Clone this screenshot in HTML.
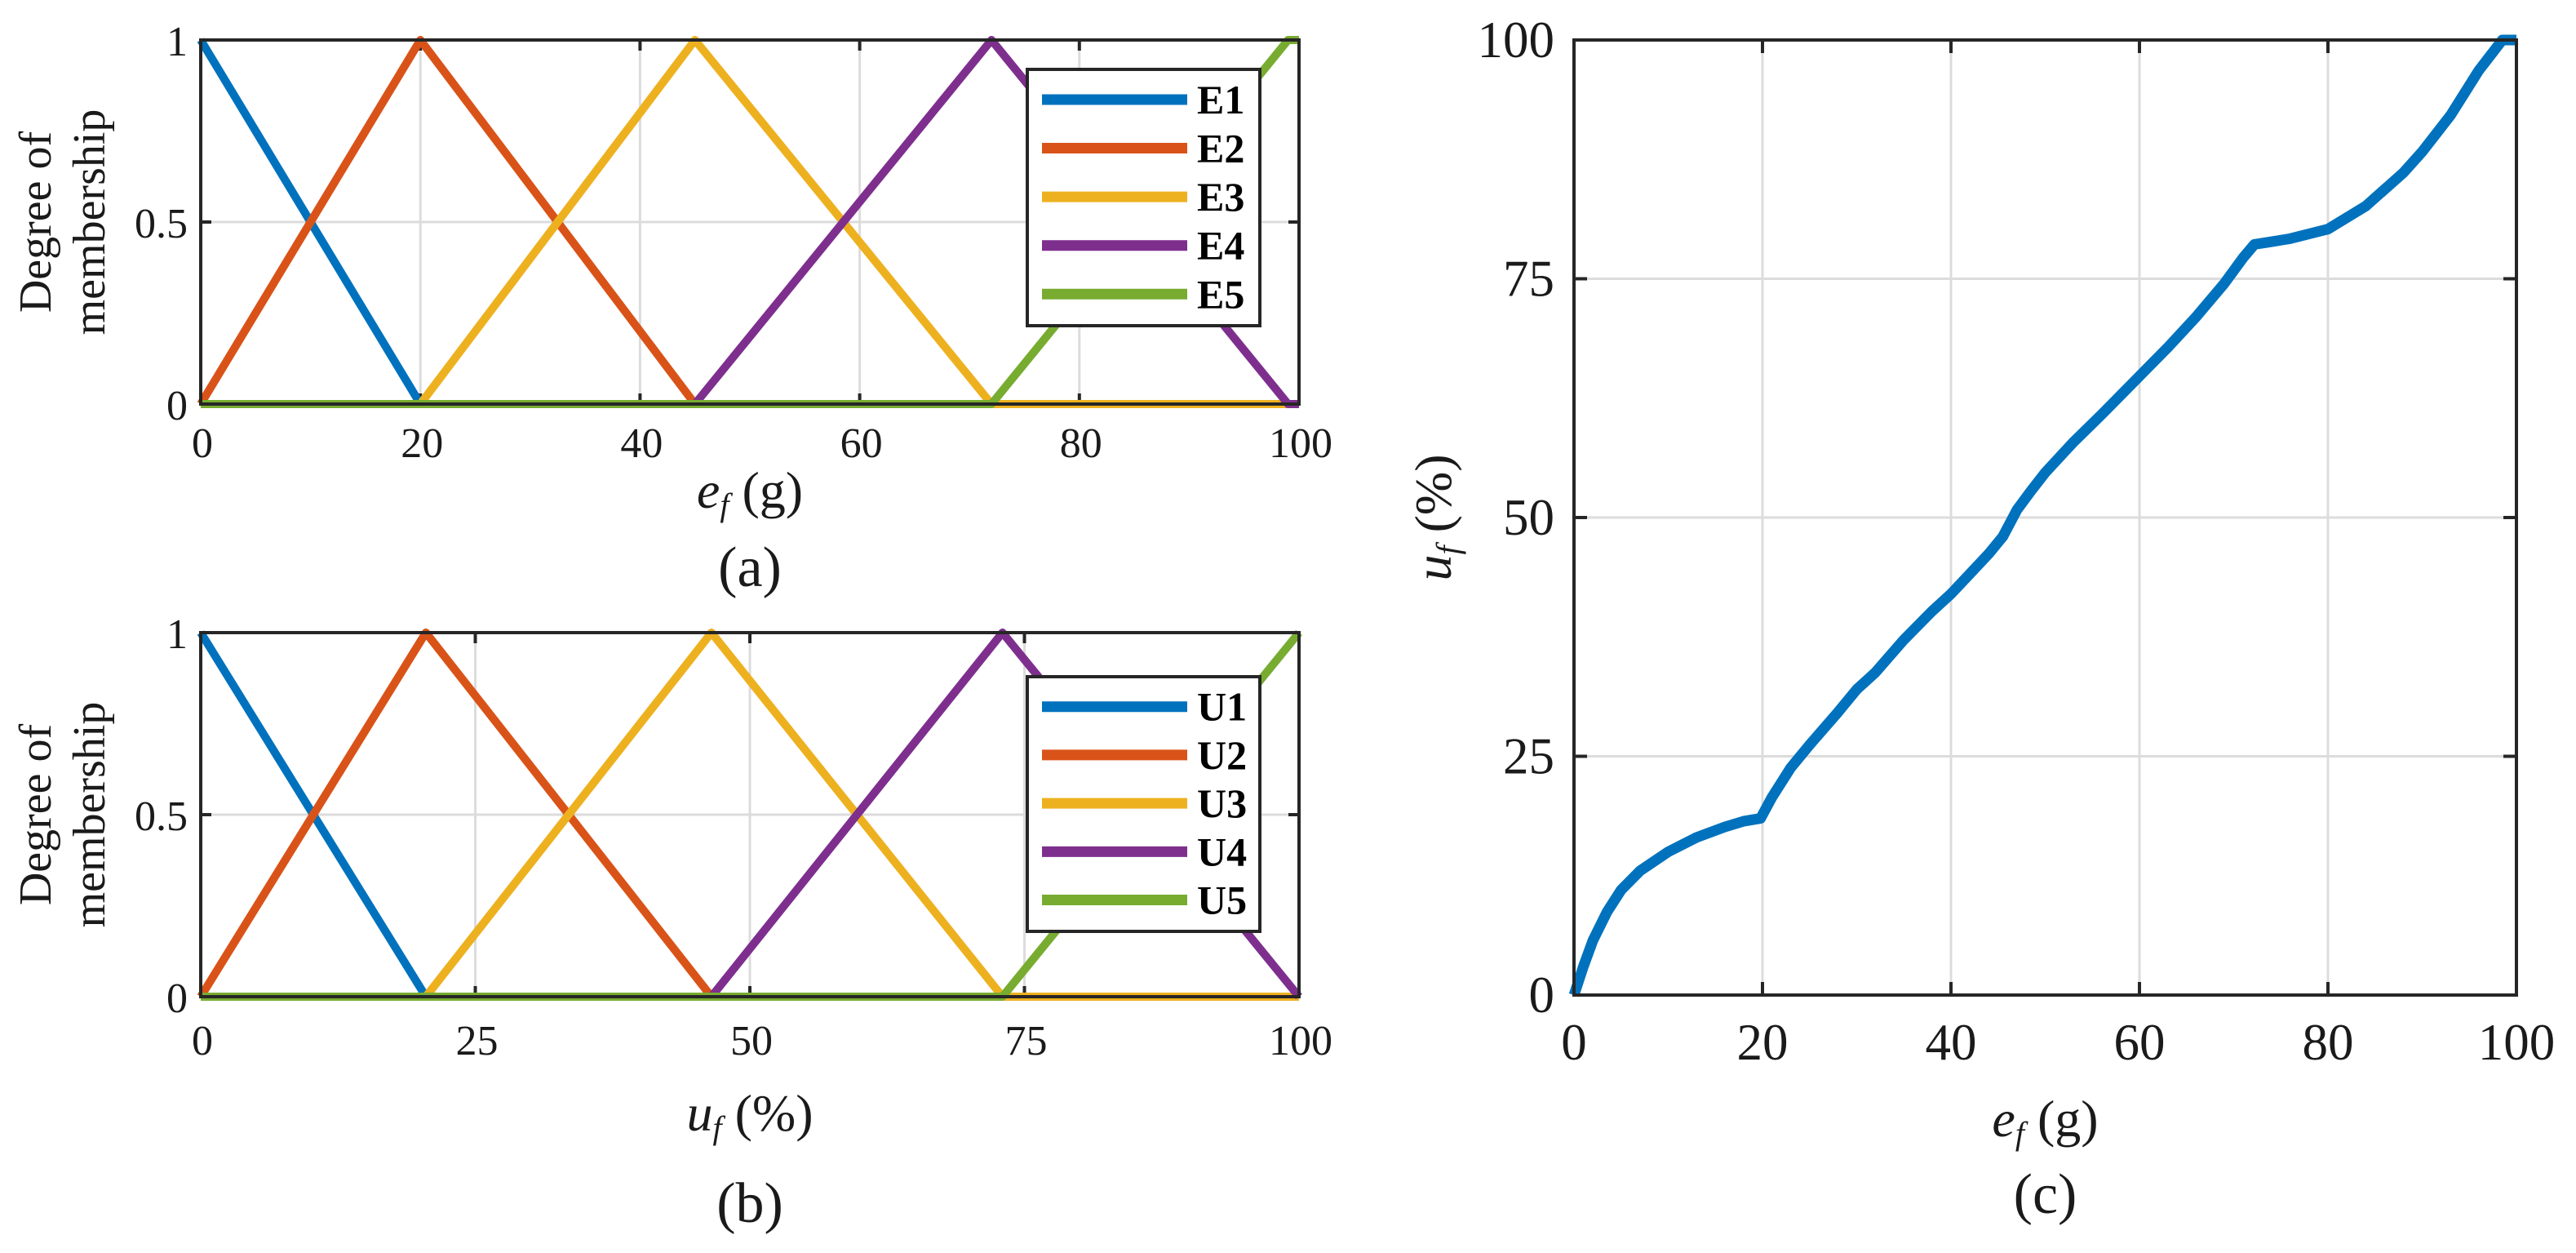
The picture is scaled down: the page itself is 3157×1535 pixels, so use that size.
<!DOCTYPE html>
<html><head><meta charset="utf-8"><style>
html,body{margin:0;padding:0;background:#fff;}
svg{display:block;font-family:"Liberation Serif",serif;}
</style></head><body>
<svg id="fig" width="3157" height="1535" viewBox="0 0 3157 1535" xmlns="http://www.w3.org/2000/svg"></svg>
<script>
// ---- data ----
const colors = ["#0072BD","#D95319","#EDB120","#7E2F8E","#77AC30"];
const eNames = ["E1","E2","E3","E4","E5"];
const uNames = ["U1","U2","U3","U4","U5"];
// membership function break points (x) and membership values (y)
const eX = [[0,20,100],[0,20,45,100],[0,20,45,72,100],[0,45,72,99,100],[0,72,99,100]];
const eY = [[1,0,0],[0,1,0,0],[0,0,1,0,0],[0,0,1,0,0],[0,0,1,1]];
const uX = [[0,20.5,100],[0,20.5,46.5,100],[0,20.5,46.5,73,100],[0,46.5,73,100],[0,73,100]];
const uY = [[1,0,0],[0,1,0,0],[0,0,1,0,0],[0,0,1,0],[0,0,1]];
const abYTicks = [0,0.5,1];
const abYTickLabels = ["0","0.5","1"];
const aXTicks = [0,20,40,60,80,100];
const bXTicks = [0,25,50,75,100];
const cXTicks = [0,20,40,60,80,100];
const cYTicks = [0,25,50,75,100];
// control surface curve
const cX = [0,1,2,3.5,5,7,10,13,16,18,19.8,21,23,25,28,30,32,35,38,40,42,44,45.5,47,48.5,50,53,56,60,63,66,69,71,72.2,73.5,76,80,84,88,90,93,96,98.5,100];
const cY = [0,3,5.7,8.7,11,13,15,16.5,17.6,18.2,18.5,20.7,23.8,26.2,29.6,32,33.8,37.2,40.2,42,44.1,46.2,48,50.8,52.8,54.7,57.9,60.8,64.8,67.8,71,74.5,77.2,78.6,78.8,79.2,80.2,82.6,86.1,88.3,92.1,96.8,100,100];

const NS="http://www.w3.org/2000/svg";
const svg=document.getElementById('fig');
function mk(tag,attrs,parent){const e=document.createElementNS(NS,tag);for(const k in attrs)e.setAttribute(k,attrs[k]);(parent||svg).appendChild(e);return e;}

function axes(key,L,R,T,B,xmin,xmax,ymin,ymax,xticks,yticks,ylabels,tickFont,tickLen){
  const g=mk('g',{});
  
  
  const sx=v=>L+(v-xmin)/(xmax-xmin)*(R-L);
  const sy=v=>B-(v-ymin)/(ymax-ymin)*(B-T);
  // grid
  xticks.forEach(t=>{if(t>xmin&&t<xmax){const l=mk('line',{x1:sx(t),x2:sx(t),y1:T,y2:B,stroke:'#dcdcdc','stroke-width':3},g);}});
  yticks.forEach(t=>{if(t>ymin&&t<ymax){const l=mk('line',{x1:L,x2:R,y1:sy(t),y2:sy(t),stroke:'#dcdcdc','stroke-width':3},g);}});
  // ticks
  xticks.forEach((t,i)=>{
    mk('line',{x1:sx(t),x2:sx(t),y1:B,y2:B-tickLen,stroke:'#262626','stroke-width':4},g);
    mk('line',{x1:sx(t),x2:sx(t),y1:T,y2:T+tickLen,stroke:'#262626','stroke-width':4},g);
  });
  yticks.forEach(t=>{
    mk('line',{x1:L,x2:L+tickLen,y1:sy(t),y2:sy(t),stroke:'#262626','stroke-width':4},g);
    mk('line',{x1:R,x2:R-tickLen,y1:sy(t),y2:sy(t),stroke:'#262626','stroke-width':4},g);
  });
  return {g,sx,sy};
}
function frame(key,L,R,T,B){
  const r=mk('rect',{x:L,y:T,width:R-L,height:B-T,fill:'none',stroke:'#262626','stroke-width':4});
  
  
}
function txt(s,x,y,size,attrs,name){
  const t=mk('text',Object.assign({x:x,y:y,'font-size':size,fill:'#1a1a1a'},attrs||{}));
  t.textContent=s;
  
  
  return t;
}
function line(pts,color,w,name,parent){
  const p=mk('polyline',{points:pts.map(p=>p.join(',')).join(' '),fill:'none',stroke:color,'stroke-width':w,'stroke-linejoin':'round','stroke-linecap':'butt'},parent);
  
  
  return p;
}

function mfPanel(key,L,R,T,B,xs,ys,names,xticks,tickBase,xlabelBase,capBase,xlabelHTML,capText,legT,legB){
  const a=axes(key,L,R,T,B,0,100,0,1,xticks,abYTicks,abYTickLabels,52,13);
  for(let i=0;i<xs.length;i++){
    line(xs[i].map((x,j)=>[a.sx(x),a.sy(ys[i][j])]),colors[i],10,key+'-series-'+names[i].toLowerCase());
  }
  frame(key,L,R,T,B);
  abYTicks.forEach((t,i)=>txt(abYTickLabels[i],L-16,a.sy(t)+19,52,{'text-anchor':'end'},key+'-y-tick-label'));
  xticks.forEach(t=>txt(String(t),a.sx(t)+2,tickBase,52,{'text-anchor':'middle'},key+'-x-tick-label'));
  // y label
  const yl=txt('',0,0,56,{'text-anchor':'middle',transform:'translate(62,'+((T+B)/2)+') rotate(-90)'},key+'-y-axis-title');
  const t1=mk('tspan',{x:0,dy:0},yl);t1.textContent='Degree of';
  const t2=mk('tspan',{x:0,dy:66},yl);t2.textContent='membership';
  // x label
  const xl=txt('',(L+R)/2,xlabelBase,64,{'text-anchor':'middle'},key+'-x-axis-title');
  xl.innerHTML=xlabelHTML;
  txt(capText,(L+R)/2,capBase,70,{'text-anchor':'middle'},key+'-caption');
  // legend
  const lg=mk('g',{});
  
  
  const lr=mk('rect',{x:1259,y:legT,width:285,height:legB-legT,fill:'#fff',stroke:'#262626','stroke-width':4},lg);
  const step=(legB-legT)/5.27;
  names.forEach((n,i)=>{
    const cy=legT+step*(0.62+i);
    const e=mk('g',{},lg);
    
    
    mk('line',{x1:1277,x2:1455,y1:cy,y2:cy,stroke:colors[i],'stroke-width':13},e);
    const t=mk('text',{x:1467,y:cy+17,'font-size':50,'font-weight':'bold',fill:'#000'},e);
    t.textContent=n;
  });
}

mfPanel('panel-a',246,1592,49,495,eX,eY,eNames,aXTicks,560,622,718,
  '<tspan font-style="italic">e</tspan><tspan font-style="italic" font-size="40" dy="10">f</tspan><tspan dy="-10"> (g)</tspan>','(a)',85,399);
mfPanel('panel-b',246,1592,775,1221,uX,uY,uNames,bXTicks,1292,1385,1497,
  '<tspan font-style="italic">u</tspan><tspan font-style="italic" font-size="40" dy="10">f</tspan><tspan dy="-10"> (%)</tspan>','(b)',829,1141);

// panel c
(function(){
  const key='panel-c',L=1929,R=3084,T=49,B=1219;
  const a=axes(key,L,R,T,B,0,100,0,100,cXTicks,cYTicks,null,63,16);
  line(cX.map((x,j)=>[a.sx(x),a.sy(cY[j])]),colors[0],13,'panel-c-series-control-surface');
  frame(key,L,R,T,B);
  cYTicks.forEach(t=>txt(String(t),L-24,a.sy(t)+21,63,{'text-anchor':'end'},key+'-y-tick-label'));
  cXTicks.forEach(t=>txt(String(t),a.sx(t),1298,63,{'text-anchor':'middle'},key+'-x-tick-label'));
  const xl=txt('',(L+R)/2,1392,64,{'text-anchor':'middle'},key+'-x-axis-title');
  xl.innerHTML='<tspan font-style="italic">e</tspan><tspan font-style="italic" font-size="40" dy="10">f</tspan><tspan dy="-10"> (g)</tspan>';
  const yl=txt('',0,0,64,{'text-anchor':'middle',transform:'translate(1778,'+((T+B)/2)+') rotate(-90)'},key+'-y-axis-title');
  yl.innerHTML='<tspan font-style="italic">u</tspan><tspan font-style="italic" font-size="40" dy="10">f</tspan><tspan dy="-10"> (%)</tspan>';
  txt('(c)',(L+R)/2,1486,70,{'text-anchor':'middle'},key+'-caption');
})();
</script>
</body></html>
